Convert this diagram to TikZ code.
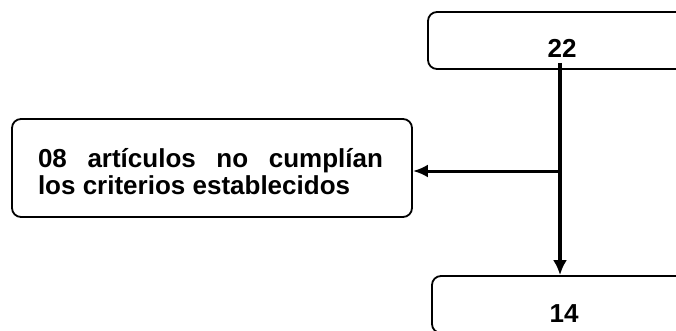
\documentclass[tikz,border=0pt]{standalone}
\usepackage{fontspec}
\setmainfont{Liberation Sans}
\usetikzlibrary{arrows.meta}
\begin{document}
\begin{tikzpicture}[x=1pt,y=-1pt,
  box/.style={draw,line width=1.8pt,rounded corners=9pt,inner sep=0pt},
  lbl/.style={font=\bfseries\fontsize{26}{27}\selectfont,inner sep=0pt},
  vconn/.style={line width=4pt,-{Latex[length=15pt,width=14pt]}},
  hconn/.style={line width=3pt,-{Latex[length=15pt,width=13pt]}}]
\useasboundingbox (0,0) rectangle (676,331);
\node[box,minimum width=268pt,minimum height=57pt] (top) at (562,40.5) {};
\node[lbl,anchor=base] (t22) at (562,58) {22};
\node[box,minimum width=400pt,minimum height=98pt] (left) at (212,168) {};
\node[lbl,text width=345pt,align=justify] (tleft) at (210.5,172) {08 artículos no cumplían\linebreak los criterios establecidos};
\node[box,minimum width=266pt,minimum height=57pt] (bot) at (565,304.5) {};
\node[lbl,anchor=base] (t14) at (564,322) {14};
\coordinate (start) at (560,63);
\coordinate (junc) at (560,171);
\draw[vconn] (start) -- (start |- bot.north);
\draw[hconn] (junc) -- (left.east |- junc);
\end{tikzpicture}
\end{document}
